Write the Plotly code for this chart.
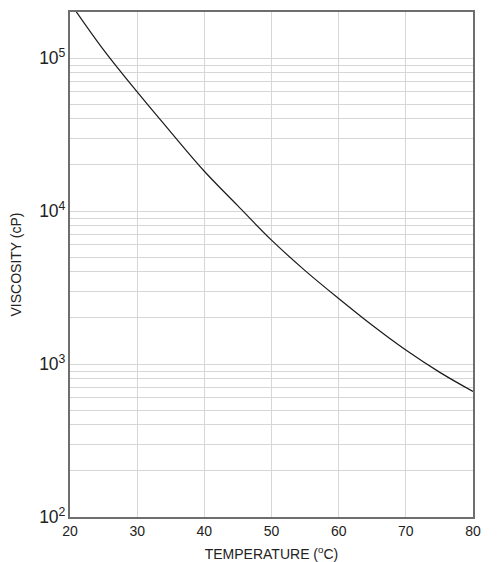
import plotly.graph_objects as go

# values
temperature = [20, 25, 30, 35, 40, 45, 50, 55, 60, 65, 70, 75, 80]
viscosity = [230000, 113000, 60000, 32800, 18200, 10800, 6450,
             4080, 2680, 1790, 1233, 885, 661]

x_ticks = [20, 30, 40, 50, 60, 70, 80]

grid = "#d6d6d6"
frame = "#6e6e6e"

fig = go.Figure()
fig.add_trace(go.Scatter(
    x=temperature, y=viscosity,
    mode="lines",
    line=dict(color="#1a1a1a", width=1.2, shape="spline", smoothing=1),
    showlegend=False,
))

fig.update_xaxes(
    range=[20, 80],
    tickvals=x_ticks,
    automargin=False,
    showgrid=True, gridcolor=grid, gridwidth=1,
    showline=True, linecolor=frame, linewidth=1.5, mirror=True,
    zeroline=False,
    ticks="",
    tickfont=dict(size=14, color="#222"),
    title=dict(text="TEMPERATURE (<sup>o</sup>C)", font=dict(size=14, color="#222"), standoff=12),
)
fig.update_yaxes(
    type="log",
    range=[2, 5.301],
    dtick=1,
    exponentformat="power",
    automargin=False,
    showgrid=True, gridcolor=grid, gridwidth=1,
    minor=dict(dtick="D1", showgrid=True, gridcolor=grid, gridwidth=1, ticks=""),
    showline=True, linecolor=frame, linewidth=1.5, mirror=True,
    zeroline=False,
    ticks="",
    tickfont=dict(size=14, color="#222"),
    title=dict(text="VISCOSITY (cP)", font=dict(size=14, color="#222"), standoff=14),
)

# page body adds an 8px offset, so the figure is a bit smaller
fig.update_layout(
    width=489, height=554,
    margin=dict(l=62, r=24, t=4, b=45),
    paper_bgcolor="white",
    plot_bgcolor="white",
    font=dict(family="Liberation Sans, Arial, sans-serif"),
)

fig.write_html("out.html")
